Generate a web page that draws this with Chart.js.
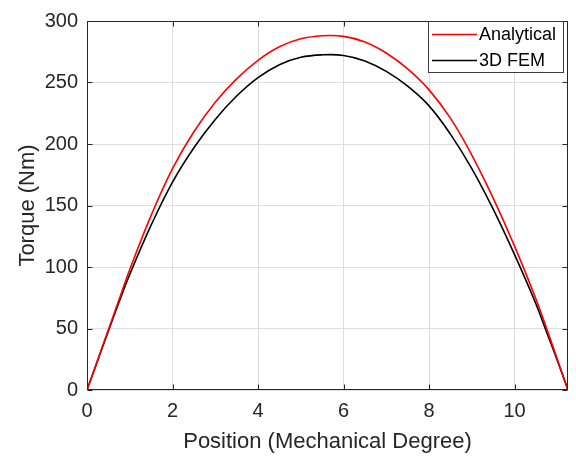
<!DOCTYPE html>
<html>
<head>
<meta charset="utf-8">
<script src="https://cdn.jsdelivr.net/npm/chart.js@4.4.1/dist/chart.umd.min.js"></script>
<style>
html,body{margin:0;padding:0;background:#fff;}
canvas{display:block;}
</style>
</head>
<body>
<canvas id="c" width="576" height="459"></canvas>
<script>
// Data
const positions = [0, 0.25, 0.5, 0.75, 1, 1.5, 2, 2.5, 3, 3.5, 4, 4.5, 5, 5.5, 6, 6.5, 7, 7.5, 8, 8.5, 9, 9.5, 10, 10.5, 10.75, 11, 11.25];
const analytical = [0, 24.5, 49, 73.5, 98, 142, 180, 210, 234, 253, 268, 279, 285.5, 288, 287.5, 283, 274, 261, 244, 221, 191, 156, 117, 74, 50, 25, 0];
const fem3d = [0, 24, 48, 71.5, 94, 134, 169, 197, 220, 239, 254, 264.5, 270.5, 272.5, 272, 267.5, 259, 247, 231, 208, 180, 147, 110, 70, 47, 24, 0];
const xTicks = [0, 2, 4, 6, 8, 10];
const yTicks = [0, 50, 100, 150, 200, 250, 300];
const seriesNames = ['Analytical', '3D FEM'];
const xTitle = 'Position (Mechanical Degree)';
const yTitle = 'Torque (Nm)';

const FONT = "'Liberation Sans', Arial, Helvetica, sans-serif";
const AX = '#262626';

function pts(ys) { return positions.map((x, i) => ({x: x, y: ys[i]})); }

const boxPlugin = {
  id: 'boxPlugin',
  afterDraw(chart) {
    const {ctx, chartArea: a, scales} = chart;
    ctx.save();
    ctx.strokeStyle = AX;
    ctx.lineWidth = 1;
    const L = Math.round(a.left) + 0.5, R = Math.round(a.right) - 0.5;
    const T = Math.round(a.top) + 0.5, B = Math.round(a.bottom) - 0.5;
    ctx.beginPath();
    ctx.rect(L, T, R - L, B - T);
    // inward ticks
    scales.x.ticks.forEach(t => {
      const px = Math.round(scales.x.getPixelForValue(t.value)) + 0.5;
      ctx.moveTo(px, B); ctx.lineTo(px, B - 5);
      ctx.moveTo(px, T); ctx.lineTo(px, T + 5);
    });
    scales.y.ticks.forEach(t => {
      const py = Math.round(scales.y.getPixelForValue(t.value)) + 0.5;
      ctx.moveTo(L, py); ctx.lineTo(L + 5, py);
      ctx.moveTo(R, py); ctx.lineTo(R - 5, py);
    });
    ctx.stroke();

    // legend
    const lx = 428, ly = 21, lw = 136, lh = 52;
    ctx.fillStyle = '#ffffff';
    ctx.fillRect(lx, ly, lw, lh);
    ctx.strokeStyle = '#3c3c3c';
    ctx.strokeRect(lx + 0.5, ly + 0.5, lw - 1, lh - 1);
    const rows = [34, 60];
    chart.data.datasets.forEach((ds, i) => {
      ctx.strokeStyle = ds.borderColor;
      ctx.lineWidth = 1.6;
      ctx.beginPath();
      ctx.moveTo(432, rows[i] + 0.5);
      ctx.lineTo(477, rows[i] + 0.5);
      ctx.stroke();
      ctx.fillStyle = '#000';
      ctx.font = '18px ' + FONT;
      ctx.textBaseline = 'middle';
      ctx.textAlign = 'left';
      ctx.fillText(ds.label, 479, rows[i] + 1);
    });
    ctx.restore();
  }
};

new Chart(document.getElementById('c'), {
  type: 'line',
  data: {
    datasets: [
      {label: seriesNames[0], data: pts(analytical), borderColor: '#ff0000', borderWidth: 1.6, pointRadius: 0, tension: 0.4, fill: false},
      {label: seriesNames[1], data: pts(fem3d), borderColor: '#000000', borderWidth: 1.6, pointRadius: 0, tension: 0.4, fill: false}
    ]
  },
  options: {
    responsive: false,
    animation: false,
    devicePixelRatio: 1,
    layout: {padding: {top: 13, right: 8, left: 0, bottom: 0}},
    plugins: {legend: {display: false}, tooltip: {enabled: false}},
    scales: {
      x: {
        type: 'linear', min: 0, max: 11.25,
        afterBuildTicks: s => { s.ticks = xTicks.map(v => ({value: v})); },
        afterFit: s => { s.height = 69; },
        grid: {color: '#dedede', lineWidth: 1, drawTicks: false},
        border: {display: false},
        ticks: {color: AX, font: {family: FONT, size: 20}, padding: 9, maxRotation: 0},
        title: {display: true, text: xTitle, color: AX, font: {family: FONT, size: 22, lineHeight: 1.2}, padding: {top: 0, bottom: 4}}
      },
      y: {
        type: 'linear', min: 0, max: 300,
        afterBuildTicks: s => { s.ticks = yTicks.map(v => ({value: v})); },
        afterFit: s => { s.width = 87; },
        grid: {color: '#dedede', lineWidth: 1, drawTicks: false},
        border: {display: false},
        ticks: {color: AX, font: {family: FONT, size: 20}, padding: 9},
        title: {display: true, text: yTitle, color: AX, font: {family: FONT, size: 22, lineHeight: 1.2}, padding: {top: 15, bottom: 0}}
      }
    }
  },
  plugins: [boxPlugin]
});
</script>
</body>
</html>
